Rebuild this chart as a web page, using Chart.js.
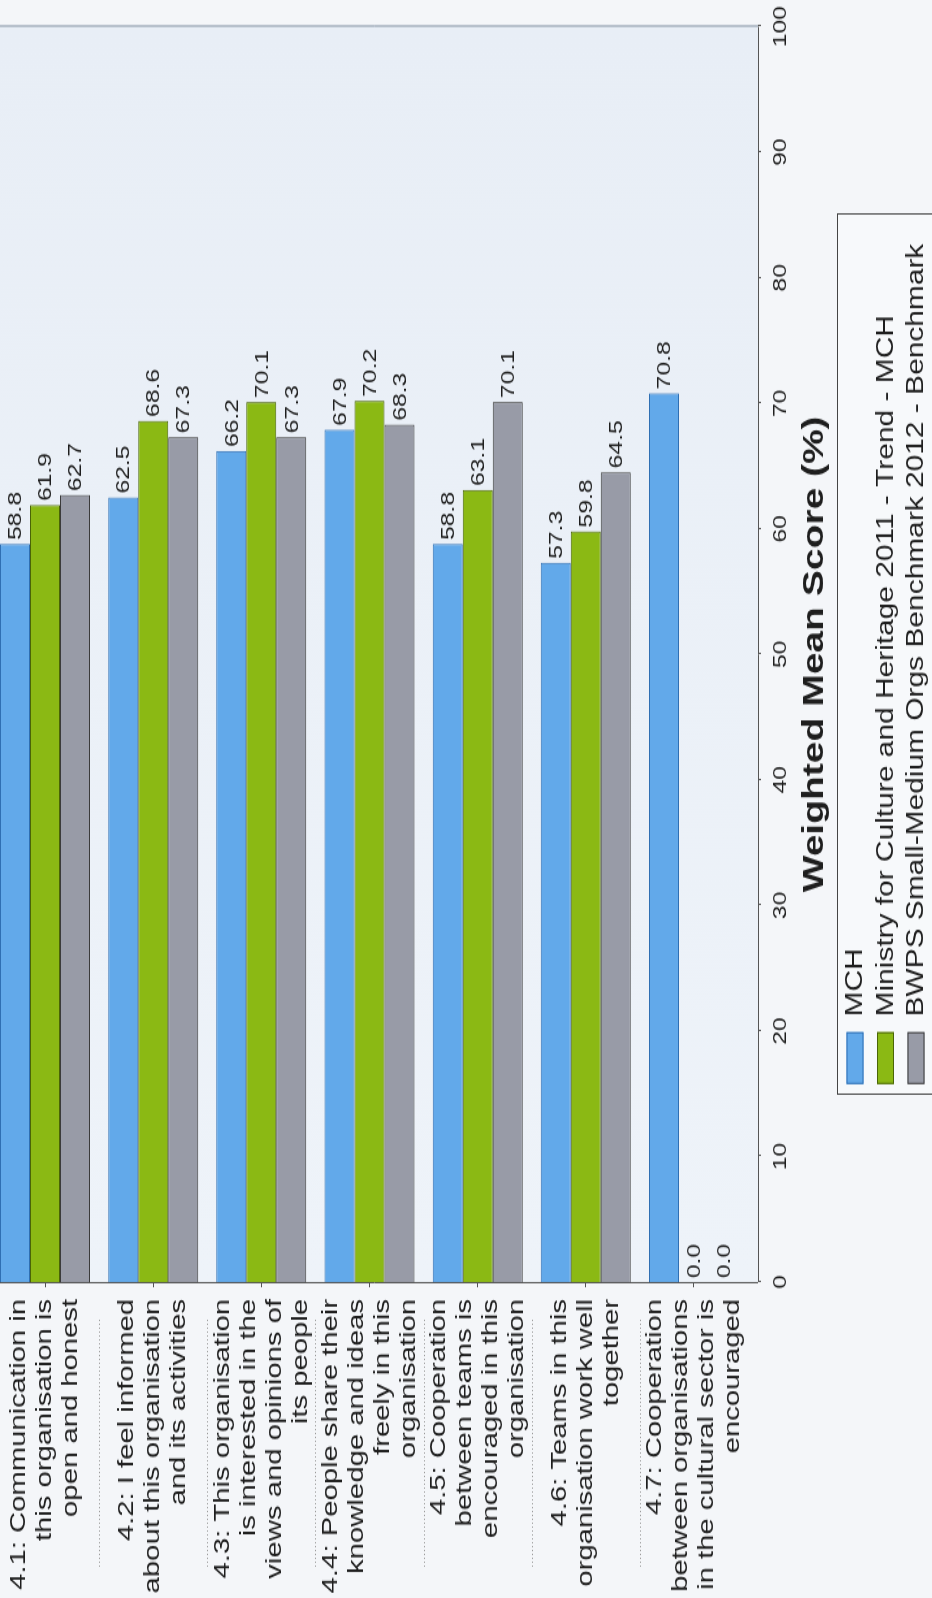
<!DOCTYPE html>
<html>
<head>
<meta charset="utf-8">
<script src="https://cdn.jsdelivr.net/npm/chart.js@4/dist/chart.umd.min.js"></script>
<style>
  html, body { margin:0; padding:0; width:932px; height:1598px; overflow:hidden; background:#f4f6f9; }
  /* chart is drawn landscape, then turned a quarter left and stretched like the scan */
  #wrap { position:absolute; left:0; top:0; width:1229px; height:941px;
          transform-origin:0 0; transform:matrix(0,-1.3002,1,0,-9,1598); }
  canvas { display:block; }
</style>
</head>
<body>
<div id="wrap"><canvas id="chart" width="1229" height="941"></canvas></div>
<script>
const FONT = '"Liberation Sans", Arial, sans-serif';

const categories = [
  ['4.1: Communication in', 'this organisation is', 'open and honest'],
  ['4.2: I feel informed', 'about this organisation', 'and its activities'],
  ['4.3: This organisation', 'is interested in the', 'views and opinions of', 'its people'],
  ['4.4: People share their', 'knowledge and ideas', 'freely in this', 'organisation'],
  ['4.5: Cooperation', 'between teams is', 'encouraged in this', 'organisation'],
  ['4.6: Teams in this', 'organisation work well', 'together'],
  ['4.7: Cooperation', 'between organisations', 'in the cultural sector is', 'encouraged']
];
const seriesNames = [
  'MCH',
  'Ministry for Culture and Heritage 2011 - Trend - MCH',
  'BWPS Small-Medium Orgs Benchmark 2012 - Benchmark'
];
const mchScores   = [58.8, 62.5, 66.2, 67.9, 58.8, 57.3, 70.8];
const trendScores = [61.9, 68.6, 70.1, 70.2, 63.1, 59.8, 0.0];
const benchScores = [62.7, 67.3, 67.3, 68.3, 70.1, 64.5, 0.0];
const axisMin = 0, axisMax = 100, axisStep = 10;
const axisTitle = 'Weighted Mean Score (%)';

const fills   = ['#62a9ea', '#8bb914', '#989ba7'];
const borders = ['#2f6fb3', '#4a6506', '#3b3b3b'];

// plot frame: background, axis lines (value axis sits a little past the last group)
const plotFrame = {
  id: 'plotFrame',
  beforeDatasetsDraw(chart) {
    const { ctx, chartArea: { left, right, top, bottom }, scales: { x } } = chart;
    const axisY = bottom + 10;
    ctx.save();
    const g = ctx.createLinearGradient(left, 0, right, 0);
    g.addColorStop(0, '#eef3f9');
    g.addColorStop(1, '#e8eef6');
    ctx.fillStyle = g;
    ctx.fillRect(left, top, right - left, axisY - top);
    ctx.lineWidth = 1;
    ctx.strokeStyle = '#7d8ca0';
    ctx.beginPath(); ctx.moveTo(right + 0.5, top); ctx.lineTo(right + 0.5, axisY); ctx.stroke();
    ctx.strokeStyle = '#555';
    ctx.beginPath(); ctx.moveTo(left - 0.5, top); ctx.lineTo(left - 0.5, axisY); ctx.stroke();
    ctx.beginPath(); ctx.moveTo(left, axisY + 0.5); ctx.lineTo(right, axisY + 0.5); ctx.stroke();
    x.ticks.forEach((t, i) => {
      const px = Math.round(x.getPixelForTick(i)) + 0.5;
      ctx.beginPath(); ctx.moveTo(px, axisY); ctx.lineTo(px, axisY + 3); ctx.stroke();
    });
    ctx.restore();
  }
};

// dotted separators between the category labels
const labelSeparators = {
  id: 'labelSeparators',
  afterDraw(chart) {
    const { ctx, chartArea: { left }, scales: { y } } = chart;
    ctx.save();
    ctx.strokeStyle = '#9a9a9a';
    ctx.lineWidth = 1;
    ctx.setLineDash([1, 2]);
    for (let k = 1; k < y.ticks.length; k++) {
      const py = Math.round((y.getPixelForTick(k - 1) + y.getPixelForTick(k)) / 2) + 0.5;
      ctx.beginPath(); ctx.moveTo(left - 219, py); ctx.lineTo(left - 27, py); ctx.stroke();
    }
    ctx.restore();
  }
};

// value labels at bar ends
const barValues = {
  id: 'barValues',
  afterDatasetsDraw(chart) {
    const { ctx } = chart;
    ctx.save();
    ctx.font = '19px ' + FONT;
    ctx.fillStyle = '#1e1e1e';
    ctx.textAlign = 'left';
    ctx.textBaseline = 'middle';
    chart.data.datasets.forEach((ds, di) => {
      chart.getDatasetMeta(di).data.forEach((bar, i) => {
        ctx.fillText(Number(ds.data[i]).toFixed(1), bar.x + 3, bar.y + 1);
      });
    });
    ctx.restore();
  }
};

// boxed legend under the axis title, centred on the plot
const boxLegend = {
  id: 'boxLegend',
  afterDraw(chart) {
    const { ctx, chartArea: { left, right, bottom } } = chart;
    const cx = (left + right) / 2;
    const bx = cx - 338.5, by = bottom + 89, bw = 677, bh = 110;
    ctx.save();
    ctx.fillStyle = '#f7f9fb';
    ctx.fillRect(bx, by, bw, bh);
    ctx.strokeStyle = '#444';
    ctx.lineWidth = 1;
    ctx.strokeRect(Math.round(bx) + 0.5, Math.round(by) + 0.5, bw, bh);
    ctx.font = '23px ' + FONT;
    ctx.textBaseline = 'middle';
    ctx.textAlign = 'left';
    chart.data.datasets.forEach((ds, i) => {
      const ly = by + 18 + i * 30.5;
      ctx.fillStyle = ds.backgroundColor;
      ctx.fillRect(bx + 8, ly - 8.5, 40, 17);
      ctx.strokeStyle = ds.borderColor;
      ctx.strokeRect(bx + 8.5, ly - 8, 39, 16);
      ctx.fillStyle = '#1e1e1e';
      ctx.fillText(ds.label, bx + 60, ly + 1);
    });
    ctx.restore();
  }
};

const seriesData = [mchScores, trendScores, benchScores];

new Chart(document.getElementById('chart'), {
  type: 'bar',
  data: {
    labels: categories,
    datasets: seriesNames.map((name, i) => ({
      label: name,
      data: seriesData[i],
      backgroundColor: fills[i],
      borderColor: borders[i],
      borderWidth: c => (c.raw ? 1 : 0),
      categoryPercentage: 0.832,
      barPercentage: 1
    }))
  },
  options: {
    indexAxis: 'y',
    responsive: false,
    animation: false,
    layout: { padding: { left: 0, top: 0, right: 20.5, bottom: 94 } },
    scales: {
      x: {
        min: axisMin, max: axisMax,
        grid: { display: false, drawTicks: false },
        border: { display: false },
        ticks: { stepSize: axisStep, padding: 21, color: '#1e1e1e', font: { family: FONT, size: 19 } },
        title: { display: true, text: axisTitle, color: '#1e1e1e',
                 font: { family: FONT, size: 30, weight: 'bold' }, padding: { top: 5, bottom: 5 } },
        afterFit: s => { s.height = 90; s.paddingLeft = 0; s.paddingRight = 0; }
      },
      y: {
        grid: { display: true, drawOnChartArea: false, drawTicks: true, tickLength: 4, offset: false, color: '#555' },
        border: { display: false },
        ticks: { padding: 9, color: '#1e1e1e', font: { family: FONT, size: 22.5, lineHeight: '26px' } },
        afterFit: s => { s.width = 243; s.paddingTop = 0; s.paddingBottom = 0; }
      }
    },
    plugins: {
      legend: { display: false },
      tooltip: { enabled: false }
    }
  },
  plugins: [plotFrame, labelSeparators, barValues, boxLegend]
});
</script>
</body>
</html>
